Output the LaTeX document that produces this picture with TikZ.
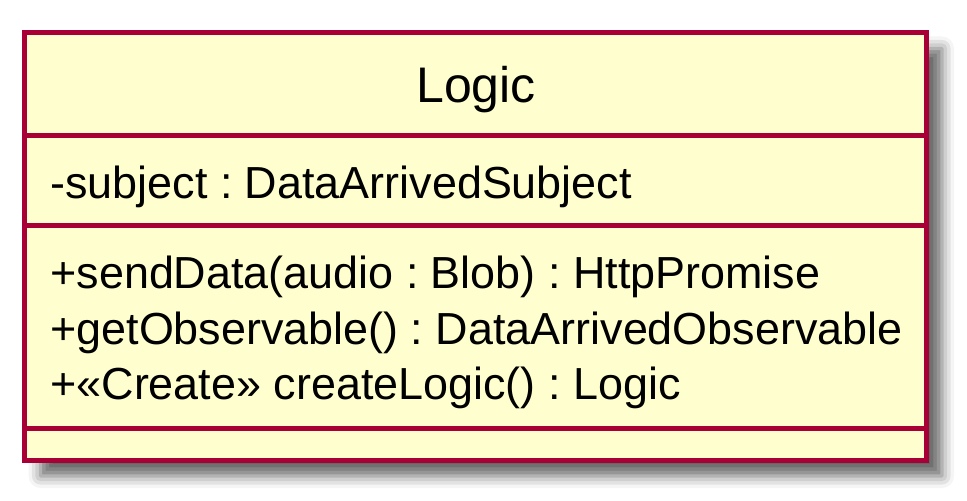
\documentclass[tikz,border=0pt]{standalone}
\usepackage{fontspec}
\setmainfont{Liberation Sans}
\usetikzlibrary{shadows.blur}
\definecolor{umlfill}{HTML}{FEFECE}
\definecolor{umlborder}{HTML}{A80036}
\frenchspacing
\begin{document}
\begin{tikzpicture}[x=0.5pt,y=-0.5pt,
  classbox/.style={draw=umlborder, fill=umlfill, line width=2.5pt, rectangle, inner sep=0pt, outer sep=0pt,
    blur shadow={shadow xshift=8pt, shadow yshift=-8pt, shadow blur radius=6pt, shadow opacity=60}},
  sepline/.style={draw=umlborder, line width=2.5pt},
  titletext/.style={inner sep=0pt, anchor=base, font=\frenchspacing\fontsize{25}{30}\selectfont},
  membertext/.style={inner sep=0pt, anchor=base west, font=\frenchspacing\fontsize{22.45}{27}\selectfont}]
\useasboundingbox (0,0) rectangle (967,501);
\node[classbox, minimum width=450.75pt, minimum height=213.75pt] (box) at (475.25,246.25) {};
\coordinate (s1) at (0,135.5);
\coordinate (s2) at (0,225.5);
\coordinate (s3) at (0,428.5);
\draw[sepline] (box.west |- s1) -- (box.east |- s1);
\draw[sepline] (box.west |- s2) -- (box.east |- s2);
\draw[sepline] (box.west |- s3) -- (box.east |- s3);
\node[titletext] (title) at (476,103) {Logic};
\node[membertext] (subj) at (50,199) {-subject : DataArrivedSubject};
\node[membertext] (m1) at (50,289) {+sendData(audio : Blob) : HttpPromise};
\node[membertext] (m2) at (50,344.5) {+getObservable() : DataArrivedObservable};
\node[membertext] (m3) at (50,400) {+«Create» createLogic() : Logic};
\end{tikzpicture}
\end{document}
